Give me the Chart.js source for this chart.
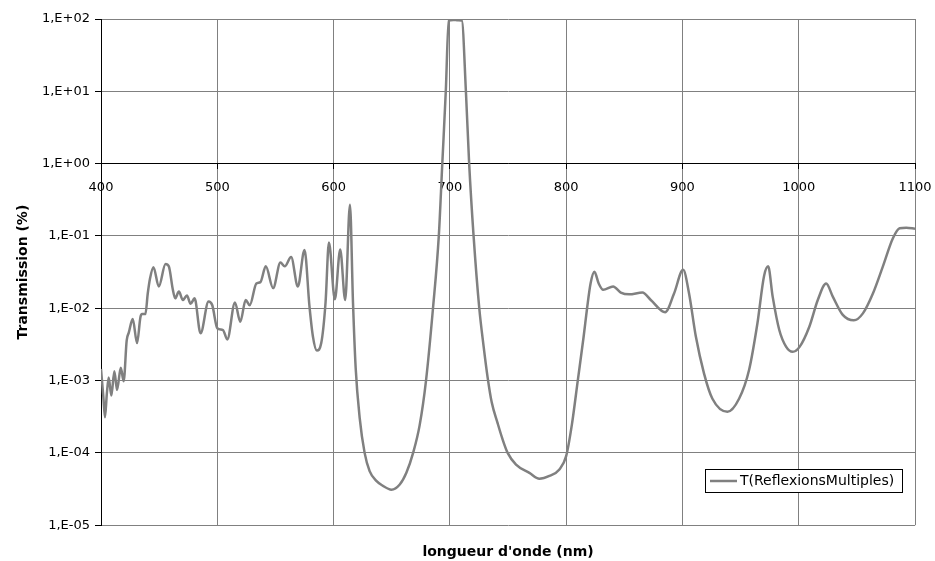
<!DOCTYPE html>
<html>
<head>
<meta charset="utf-8">
<script src="https://cdn.jsdelivr.net/npm/chart.js@4.4.1/dist/chart.umd.min.js"></script>
<style>
html,body{margin:0;padding:0;background:#fff;}
#wrap{width:935px;height:561px;}
</style>
</head>
<body>
<div id="wrap"><canvas id="c" width="935" height="561"></canvas></div>
<script>
// Wavelength (nm)
const wavelengths = [
  400, 402, 403.4, 405, 406.6, 408.9, 411.5, 413.8, 417, 419.5,
  422.1, 423.9, 427.3, 431, 433.9, 435.3, 438.2, 440.2, 442.2, 445.1,
  449.7, 455.5, 458.3, 461.8, 463.8, 467, 470.4, 473.9, 477, 480.5,
  485.6, 492.5, 495.7, 500, 504.9, 508.6, 515.2, 519.8, 524.4, 527.9,
  533.6, 537.1, 541.7, 548, 554.3, 558, 563.5, 569.3, 575, 579.3,
  582.2, 585.6, 589.4, 593.1, 596, 601.1, 605.7, 610, 614.1, 616.7,
  619, 622.4, 626.7, 631, 636.8, 642.5, 649.7, 656.9, 662.6, 668.4,
  674, 679.5, 685.5, 690.5, 693.5, 696.5, 699, 703, 707, 710.3,
  713.8, 716.6, 720.4, 725.3, 729, 732.5, 736, 741, 745, 749.7, 756.9, 768.4, 777,
  785.6, 794.2, 800, 805, 810, 815, 818, 821, 824.3, 828,
  831.8, 840.4, 847, 854.2, 865.6, 872.8, 885.1, 892.8, 900.6, 905.7,
  911.5, 918.6, 925.8, 938.7, 948.7, 957.3, 964.5, 970.2, 973.7, 977.6,
  983.3, 989.1, 994.8, 1000.6, 1009.2, 1016.4, 1023.6, 1029.3, 1037.9, 1047.4,
  1055.2, 1063.8, 1072.4, 1081, 1086.8, 1092.5, 1100
];
// T(ReflexionsMultiples) in %
const transmission = [
  1.45e-3, 6e-4, 3.1e-4, 6.5e-4, 1.1e-3, 6.2e-4, 1.35e-3, 7.4e-4, 1.5e-3, 9.8e-4,
  3.6e-3, 4.6e-3, 7.1e-3, 3.3e-3, 7.5e-3, 8.3e-3, 8.3e-3, 1.6e-2, 2.6e-2, 3.7e-2,
  2.0e-2, 4.1e-2, 3.8e-2, 1.8e-2, 1.37e-2, 1.7e-2, 1.3e-2, 1.5e-2, 1.15e-2, 1.37e-2,
  4.5e-3, 1.24e-2, 1.1e-2, 5.3e-3, 5e-3, 3.7e-3, 1.2e-2, 6.5e-3, 1.3e-2, 1.1e-2,
  2.2e-2, 2.3e-2, 3.8e-2, 1.9e-2, 4.3e-2, 3.8e-2, 5.1e-2, 2.0e-2, 6.4e-2, 1.05e-2,
  4.1e-3, 2.6e-3, 3.3e-3, 1.2e-2, 8.1e-2, 1.33e-2, 6.5e-2, 1.3e-2, 0.27, 1.2e-2,
  1.5e-3, 3.1e-4, 1e-4, 5.6e-5, 4.1e-5, 3.5e-5, 3.1e-5, 3.65e-5, 5.3e-5, 1e-4,
  2.4e-4, 1e-3, 1e-2, 0.1, 1, 10, 95, 97, 96, 95,
  10, 1, 0.1, 1e-2, 3e-3, 1.1e-3, 5e-4, 2.6e-4, 1.6e-4, 1e-4, 6.9e-5, 5.3e-5, 4.4e-5,
  4.8e-5, 5.9e-5, 9e-5, 2.5e-4, 1e-3, 4e-3, 1e-2, 2.2e-2, 3.2e-2, 2.2e-2,
  1.8e-2, 2.0e-2, 1.65e-2, 1.56e-2, 1.65e-2, 1.3e-2, 8.8e-3, 1.6e-2, 3.4e-2, 1.6e-2,
  4.1e-3, 1.25e-3, 5.6e-4, 3.7e-4, 5.6e-4, 1.4e-3, 6.2e-3, 2.8e-2, 3.8e-2, 1.45e-2,
  5e-3, 2.95e-3, 2.5e-3, 2.9e-3, 5.6e-3, 1.3e-2, 2.2e-2, 1.45e-2, 8.1e-3, 6.8e-3,
  8.5e-3, 1.6e-2, 3.8e-2, 9.3e-2, 0.128, 0.13, 0.126
];
const seriesLabel = 'T(ReflexionsMultiples)';
const yTickValues = [1e-5, 1e-4, 1e-3, 1e-2, 1e-1, 1, 10, 100];
const xTickValues = [400, 500, 600, 700, 800, 900, 1000, 1100];
const xTitle = "longueur d'onde (nm)";
const yTitle = 'Transmission (%)';

const points = wavelengths.map((x, i) => ({x: x, y: transmission[i]}));

function fmtExp(v) {
  const e = Math.round(Math.log10(v));
  return '1,E' + (e >= 0 ? '+' : '-') + String(Math.abs(e)).padStart(2, '0');
}

const legendBox = {
  id: 'legendBox',
  afterDraw(chart) {
    const ctx = chart.ctx, a = chart.chartArea;
    const ds = chart.data.datasets[0];
    const w = 197, h = 23;
    const x = Math.round(a.right - 13 - w), y = Math.round(a.bottom - 33 - h);
    ctx.save();
    ctx.fillStyle = '#fff';
    ctx.fillRect(x, y, w, h);
    ctx.strokeStyle = '#000';
    ctx.lineWidth = 1;
    ctx.strokeRect(x + 0.5, y + 0.5, w, h);
    ctx.strokeStyle = ds.borderColor;
    ctx.lineWidth = 2.5;
    ctx.beginPath();
    ctx.moveTo(x + 5, y + h / 2 + 0.5);
    ctx.lineTo(x + 32, y + h / 2 + 0.5);
    ctx.stroke();
    ctx.fillStyle = '#000';
    ctx.font = '14px "DejaVu Sans"';
    ctx.textBaseline = 'middle';
    ctx.textAlign = 'left';
    ctx.fillText(ds.label, x + 35, y + h / 2 + 1);
    ctx.restore();
  }
};

Chart.defaults.font.family = '"DejaVu Sans", sans-serif';
Chart.defaults.color = '#000';

new Chart(document.getElementById('c'), {
  type: 'line',
  data: {
    datasets: [{
      label: seriesLabel,
      data: points,
      borderColor: '#808080',
      backgroundColor: '#808080',
      borderWidth: 2.5,
      pointRadius: 0,
      fill: false,
      cubicInterpolationMode: 'monotone'
    }]
  },
  options: {
    responsive: false,
    animation: false,
    devicePixelRatio: 1,
    layout: {padding: {left: 0, right: 20, top: 19, bottom: 0}},
    plugins: {
      legend: {display: false},
      tooltip: {enabled: false},
      title: {
        display: true,
        position: 'bottom',
        fullSize: false,
        text: xTitle,
        font: {size: 14, weight: 'bold'},
        color: '#000',
        padding: {top: 19, bottom: 0}
      }
    },
    scales: {
      x: {
        type: 'linear',
        position: {y: 1},
        min: 400,
        max: 1100,
        afterBuildTicks: s => { s.ticks = xTickValues.map(v => ({value: v})); },
        afterFit: s => { s.paddingLeft = 0; s.paddingRight = 0; },
        ticks: {
          font: {size: 13},
          color: '#000',
          padding: 11,
          maxRotation: 0,
          callback: v => String(v)
        },
        grid: {color: '#808080', lineWidth: 1, tickLength: 5, tickColor: '#000'},
        border: {display: true, color: '#000', width: 1}
      },
      y: {
        type: 'logarithmic',
        position: 'left',
        min: 1e-5,
        max: 100,
        afterBuildTicks: s => { s.ticks = yTickValues.map(v => ({value: v})); },
        afterFit: s => { s.width = 101; },
        ticks: {
          font: {size: 13},
          color: '#000',
          padding: 5,
          callback: v => fmtExp(v)
        },
        grid: {color: '#808080', lineWidth: 1, tickLength: 6, tickColor: '#000'},
        border: {display: true, color: '#000', width: 1},
        title: {
          display: true,
          text: yTitle,
          font: {size: 14, weight: 'bold'},
          color: '#000',
          padding: {top: 15, bottom: 0}
        }
      }
    }
  },
  plugins: [legendBox]
});
</script>
</body>
</html>
